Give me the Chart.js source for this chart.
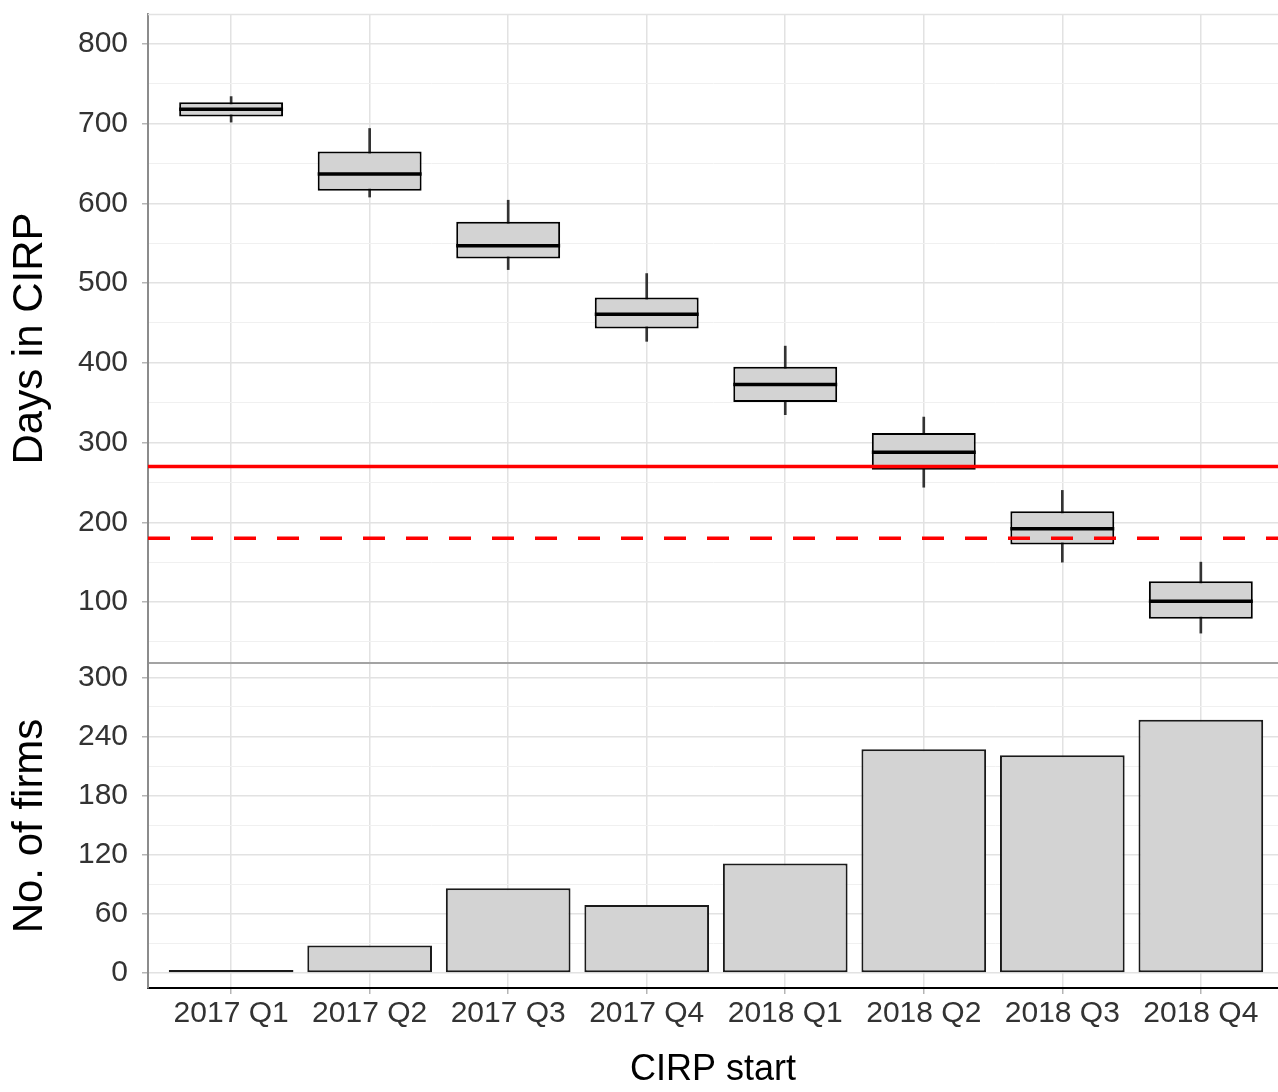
<!DOCTYPE html>
<html>
<head>
    <title>Days in CIRP by start quarter</title>
    <meta charset="utf-8" />
    <script src="https://cdn.jsdelivr.net/npm/chart.js@4.4.1/dist/chart.umd.min.js"></script>
    <style>
        body {
            margin: 0;
            background: #fff;
        }
        #top-panel {
            width: 1278px;
            height: 664px;
        }
        #bottom-panel {
            width: 1278px;
            height: 428px;
        }
    </style>
</head>
<body>
    <div id="top-panel"><canvas id="daysChart"></canvas></div>
    <div id="bottom-panel"><canvas id="firmsChart"></canvas></div>

    <script>
        // quarter of CIRP start
        const quarters = ['2017 Q1', '2017 Q2', '2017 Q3', '2017 Q4',
                          '2018 Q1', '2018 Q2', '2018 Q3', '2018 Q4'];

        // days in CIRP, box plot stats per quarter
        const whiskerLow  = [702, 608, 517, 427, 335, 244, 150, 61];
        const boxLow      = [709, 616, 531, 443, 351, 266, 172, 79];
        const medians     = [718, 637, 547, 461, 373, 288, 192, 101];
        const boxHigh     = [727, 665, 577, 482, 395, 312, 214, 126];
        const whiskerHigh = [734, 694, 604, 512, 421, 332, 240, 150];

        // no. of firms per quarter
        const firmCounts = [3, 28, 86, 69, 111, 227, 221, 257];

        // reference lines (days)
        const limitDays = 270;
        const targetDays = 180;

        const fontFamily = '"Liberation Sans", Arial, sans-serif';
        const xMin = -0.6, xMax = 7.557;
        const boxFill = '#d3d3d3';

        const isMajor = (v, step) => Math.abs(v / step - Math.round(v / step)) < 1e-6;
        const gridColor = step => ctx => (ctx.tick && isMajor(ctx.tick.value, step)) ? '#e2e2e2' : '#f0f0f0';
        const gridWidth = step => ctx => (ctx.tick && isMajor(ctx.tick.value, step)) ? 1.5 : 1;
        const tickMark = step => ctx => (ctx.tick && isMajor(ctx.tick.value, step)) ? '#b5b5b5' : 'rgba(0,0,0,0)';

        function xAxis(showLabels) {
            return {
                type: 'linear',
                min: xMin,
                max: xMax,
                offset: false,
                border: showLabels ? {color: '#000', width: 2} : {color: '#a3a3a3', width: 2},
                grid: {offset: false, color: '#e2e2e2', lineWidth: 1.5,
                       drawTicks: showLabels, tickLength: 6, tickColor: '#b5b5b5'},
                ticks: {
                    display: showLabels,
                    stepSize: 1,
                    includeBounds: false,
                    autoSkip: false,
                    maxRotation: 0,
                    padding: 2,
                    color: '#333',
                    font: {family: fontFamily, size: 30},
                    callback: v => quarters[Math.round(v)] || ''
                },
                title: {
                    display: showLabels,
                    text: 'CIRP start',
                    color: '#000',
                    font: {family: fontFamily, size: 36},
                    padding: {top: 0, bottom: 0}
                },
                afterFit: s => {
                    s.height = showLabels ? 104 : 1;
                    s.paddingLeft = 0;
                    s.paddingRight = 0;
                }
            };
        }

        function yAxis(min, max, step, labelStep, title) {
            return {
                type: 'linear',
                position: 'left',
                min: min,
                max: max,
                border: {color: '#8c8c8c', width: 2},
                grid: {color: gridColor(labelStep), lineWidth: gridWidth(labelStep),
                       tickLength: 6, tickColor: tickMark(labelStep)},
                ticks: {
                    stepSize: step,
                    includeBounds: false,
                    autoSkip: false,
                    padding: 14,
                    color: '#333',
                    font: {family: fontFamily, size: 30},
                    callback: v => isMajor(v, labelStep) ? String(Math.round(v)) : ''
                },
                title: {
                    display: true,
                    text: title,
                    color: '#000',
                    font: {family: fontFamily, size: 42},
                    padding: {top: 5, bottom: 0}
                },
                afterFit: s => {
                    s.width = 148;
                    s.paddingTop = 0;
                    s.paddingBottom = 0;
                }
            };
        }

        // faint top edge of the upper panel
        const topEdge = {
            id: 'topEdge',
            beforeDatasetsDraw(chart) {
                const {ctx, chartArea} = chart;
                ctx.save();
                ctx.strokeStyle = '#e2e2e2';
                ctx.lineWidth = 1.5;
                ctx.beginPath();
                ctx.moveTo(chartArea.left, chartArea.top + 0.5);
                ctx.lineTo(chartArea.right, chartArea.top + 0.5);
                ctx.stroke();
                ctx.restore();
            }
        };

        const hline = (value, dash) => ({
            type: 'line',
            data: [{x: xMin, y: value}, {x: xMax, y: value}],
            borderColor: '#ff0000',
            borderWidth: 3.5,
            borderDash: dash,
            pointRadius: 0,
            order: 0
        });

        const common = {
            responsive: true,
            maintainAspectRatio: false,
            animation: false,
            events: [],
            plugins: {
                legend: {display: false},
                tooltip: {enabled: false}
            }
        };

        new Chart(document.getElementById('daysChart'), {
            type: 'bar',
            data: {
                datasets: [
                    hline(limitDays, []),
                    hline(targetDays, [22, 21]),
                    {
                        type: 'line',
                        data: medians.map((v, i) => ({x: i, y: v})),
                        showLine: false,
                        pointStyle: 'line',
                        pointRadius: ctx => {
                            const x = ctx.chart.scales.x;
                            return Math.abs(x.getPixelForValue(0.375) - x.getPixelForValue(0));
                        },
                        pointBorderWidth: 3.5,
                        pointBorderColor: '#000',
                        order: 1
                    },
                    {
                        data: boxLow.map((v, i) => ({x: i, y: [v, boxHigh[i]]})),
                        backgroundColor: boxFill,
                        borderColor: '#000',
                        borderWidth: 2,
                        borderSkipped: false,
                        grouped: false,
                        categoryPercentage: 1,
                        barPercentage: 0.75,
                        order: 2
                    },
                    {
                        data: whiskerLow.map((v, i) => ({x: i, y: [v, whiskerHigh[i]]})),
                        backgroundColor: '#333',
                        borderWidth: 0,
                        grouped: false,
                        categoryPercentage: 1,
                        barPercentage: 1,
                        maxBarThickness: 2,
                        order: 3
                    }
                ]
            },
            options: {
                ...common,
                layout: {padding: {top: 14, right: 0, bottom: 0, left: 0}},
                scales: {
                    x: xAxis(false),
                    y: yAxis(23.5, 837.6, 50, 100, 'Days in CIRP')
                }
            },
            plugins: [topEdge]
        });

        new Chart(document.getElementById('firmsChart'), {
            type: 'bar',
            data: {
                datasets: [{
                    data: firmCounts.map((v, i) => ({x: i, y: v})),
                    backgroundColor: boxFill,
                    borderColor: '#1a1a1a',
                    borderWidth: 2,
                    borderSkipped: false,
                    grouped: false,
                    categoryPercentage: 1,
                    barPercentage: 0.9
                }]
            },
            options: {
                ...common,
                layout: {padding: {top: 0, right: 0, bottom: 0, left: 0}},
                scales: {
                    x: xAxis(true),
                    y: yAxis(-15.2, 313.5, 30, 60, 'No. of firms')
                }
            }
        });
    </script>
</body>
</html>
